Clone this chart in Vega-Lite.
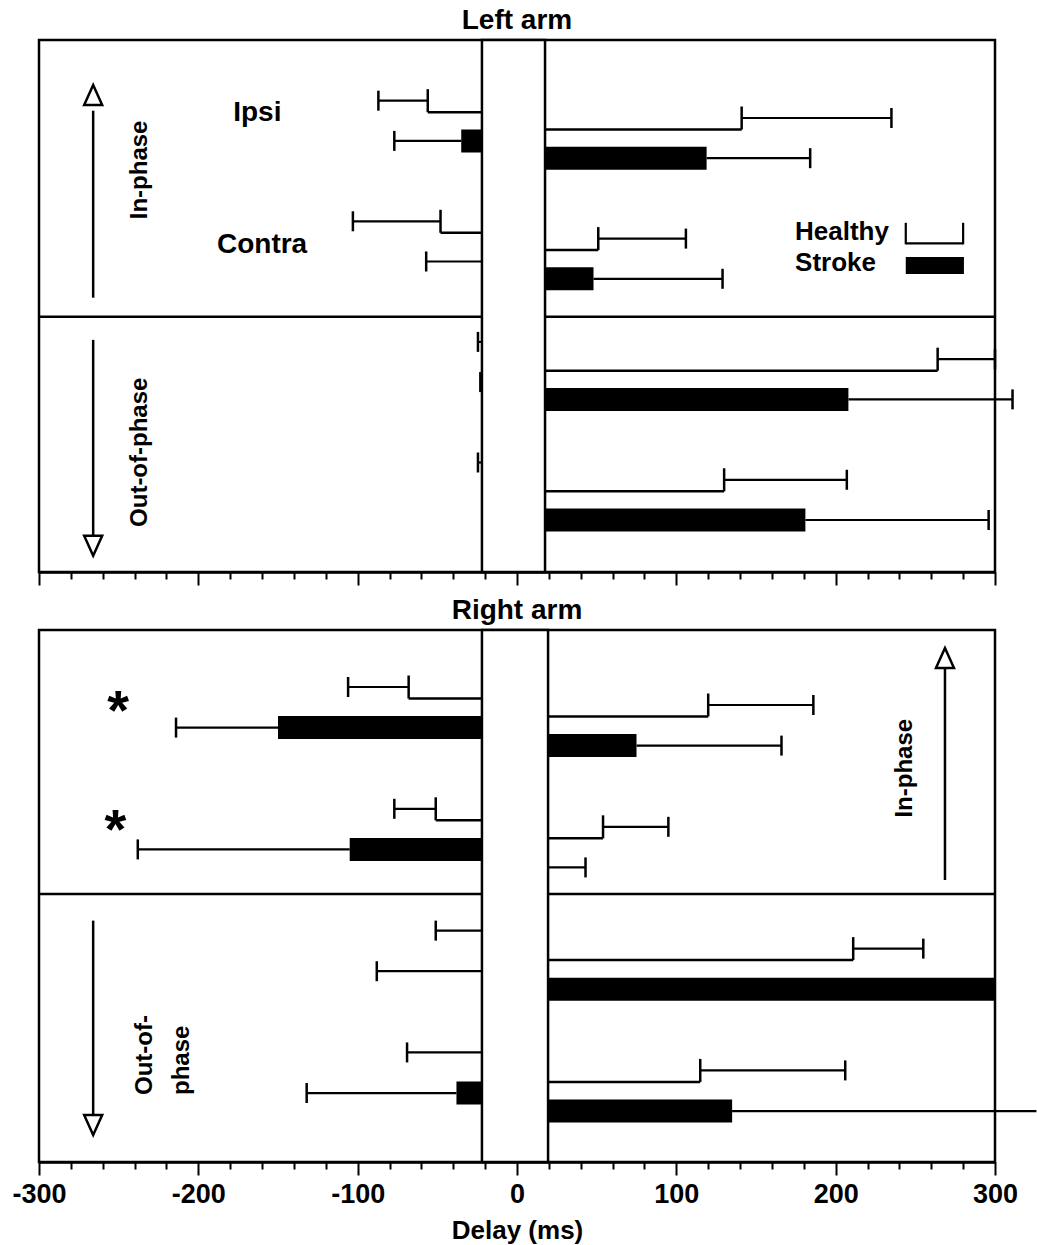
{
  "$schema": "https://vega.github.io/schema/vega-lite/v6.json",
  "padding": {"left": 10, "top": 5, "right": 0, "bottom": 0},
  "background": "white",
  "spacing": 7,
  "config": {
    "view": {"stroke": "black", "strokeWidth": 2.5},
    "axis": {"grid": false},
    "text": {"font": "Liberation Sans", "fontWeight": "bold", "color": "black"},
    "title": {"font": "Liberation Sans", "fontSize": 28, "fontWeight": "bold", "color": "black", "offset": 4}
  },
  "datasets": {
    "bars": [
      {"arm": "Left arm", "side": "neg", "row": "In-phase | Ipsi | Healthy", "subject": "Healthy", "mean": -56, "errEnd": -87},
      {"arm": "Left arm", "side": "neg", "row": "In-phase | Ipsi | Stroke", "subject": "Stroke", "mean": -35, "errEnd": -77},
      {"arm": "Left arm", "side": "neg", "row": "In-phase | Contra | Healthy", "subject": "Healthy", "mean": -48, "errEnd": -103},
      {"arm": "Left arm", "side": "neg", "row": "In-phase | Contra | Stroke", "subject": "Stroke", "mean": -10, "errEnd": -57},
      {"arm": "Left arm", "side": "neg", "row": "Out-of-phase | Ipsi | Healthy", "subject": "Healthy", "mean": -8, "errEnd": -24.5},
      {"arm": "Left arm", "side": "neg", "row": "Out-of-phase | Ipsi | Stroke", "subject": "Stroke", "mean": -8, "errEnd": -23},
      {"arm": "Left arm", "side": "neg", "row": "Out-of-phase | Contra | Healthy", "subject": "Healthy", "mean": -8, "errEnd": -24.5},
      {"arm": "Left arm", "side": "neg", "row": "Out-of-phase | Contra | Stroke", "subject": "Stroke", "mean": -5, "errEnd": -10},
      {"arm": "Left arm", "side": "pos", "row": "In-phase | Ipsi | Healthy", "subject": "Healthy", "mean": 141, "errEnd": 235},
      {"arm": "Left arm", "side": "pos", "row": "In-phase | Ipsi | Stroke", "subject": "Stroke", "mean": 119, "errEnd": 184},
      {"arm": "Left arm", "side": "pos", "row": "In-phase | Contra | Healthy", "subject": "Healthy", "mean": 51, "errEnd": 106},
      {"arm": "Left arm", "side": "pos", "row": "In-phase | Contra | Stroke", "subject": "Stroke", "mean": 48, "errEnd": 129},
      {"arm": "Left arm", "side": "pos", "row": "Out-of-phase | Ipsi | Healthy", "subject": "Healthy", "mean": 264, "errEnd": 300},
      {"arm": "Left arm", "side": "pos", "row": "Out-of-phase | Ipsi | Stroke", "subject": "Stroke", "mean": 208, "errEnd": 311},
      {"arm": "Left arm", "side": "pos", "row": "Out-of-phase | Contra | Healthy", "subject": "Healthy", "mean": 130, "errEnd": 207},
      {"arm": "Left arm", "side": "pos", "row": "Out-of-phase | Contra | Stroke", "subject": "Stroke", "mean": 181, "errEnd": 296},
      {"arm": "Right arm", "side": "neg", "row": "In-phase | Ipsi | Healthy", "subject": "Healthy", "mean": -68, "errEnd": -106},
      {"arm": "Right arm", "side": "neg", "row": "In-phase | Ipsi | Stroke", "subject": "Stroke", "mean": -150, "errEnd": -214},
      {"arm": "Right arm", "side": "neg", "row": "In-phase | Contra | Healthy", "subject": "Healthy", "mean": -51, "errEnd": -77},
      {"arm": "Right arm", "side": "neg", "row": "In-phase | Contra | Stroke", "subject": "Stroke", "mean": -105, "errEnd": -238},
      {"arm": "Right arm", "side": "neg", "row": "Out-of-phase | Ipsi | Healthy", "subject": "Healthy", "mean": -10, "errEnd": -51},
      {"arm": "Right arm", "side": "neg", "row": "Out-of-phase | Ipsi | Stroke", "subject": "Stroke", "mean": -10, "errEnd": -88},
      {"arm": "Right arm", "side": "neg", "row": "Out-of-phase | Contra | Healthy", "subject": "Healthy", "mean": -10, "errEnd": -69},
      {"arm": "Right arm", "side": "neg", "row": "Out-of-phase | Contra | Stroke", "subject": "Stroke", "mean": -38, "errEnd": -132},
      {"arm": "Right arm", "side": "pos", "row": "In-phase | Ipsi | Healthy", "subject": "Healthy", "mean": 120, "errEnd": 186},
      {"arm": "Right arm", "side": "pos", "row": "In-phase | Ipsi | Stroke", "subject": "Stroke", "mean": 75, "errEnd": 166},
      {"arm": "Right arm", "side": "pos", "row": "In-phase | Contra | Healthy", "subject": "Healthy", "mean": 54, "errEnd": 95},
      {"arm": "Right arm", "side": "pos", "row": "In-phase | Contra | Stroke", "subject": "Stroke", "mean": 10, "errEnd": 43},
      {"arm": "Right arm", "side": "pos", "row": "Out-of-phase | Ipsi | Healthy", "subject": "Healthy", "mean": 211, "errEnd": 255},
      {"arm": "Right arm", "side": "pos", "row": "Out-of-phase | Ipsi | Stroke", "subject": "Stroke", "mean": 300, "errEnd": 300},
      {"arm": "Right arm", "side": "pos", "row": "Out-of-phase | Contra | Healthy", "subject": "Healthy", "mean": 115, "errEnd": 206},
      {"arm": "Right arm", "side": "pos", "row": "Out-of-phase | Contra | Stroke", "subject": "Stroke", "mean": 135, "errEnd": 326}
    ],
    "gap": [
      {"arm": "Left arm", "from": -22, "to": 17.6},
      {"arm": "Right arm", "from": -22, "to": 19.5}
    ]
  },
  "vconcat": [
    {
      "title": {"text": "Left arm"},
      "width": 956,
      "height": 532,
      "resolve": {"axis": {"x": "independent"}},
      "layer": [
        {
          "data": {"values": [{}]},
          "mark": {"type": "rule", "color": "black", "strokeWidth": 2.5, "yOffset": 15},
          "encoding": {
            "y": {"datum": "spacer 2", "type": "ordinal", "axis": null, "scale": {"type": "band", "domain": ["edge top","In-phase | Ipsi | Healthy","In-phase | Ipsi | Stroke","spacer 1","In-phase | Contra | Healthy","In-phase | Contra | Stroke","spacer 2","Out-of-phase | Ipsi | Healthy","Out-of-phase | Ipsi | Stroke","spacer 3","Out-of-phase | Contra | Healthy","Out-of-phase | Contra | Stroke","edge bottom"], "paddingInner": 0.428, "paddingOuter": 0.331, "align": 0.338}}
          }
        },
        {
          "data": {"name": "bars"},
          "transform": [{"filter": "datum.arm === 'Left arm' && datum.subject === 'Stroke'"}],
          "mark": {"type": "bar", "color": "black", "yOffset": {"expr": "datum.side === 'pos' ? 17.3 : 0"}},
          "encoding": {
            "x": {"field": "mean", "type": "quantitative", "axis": null, "scale": {"domain": [-300, 300]}},
            "y": {"field": "row", "type": "ordinal", "axis": null, "scale": {"type": "band", "domain": ["edge top","In-phase | Ipsi | Healthy","In-phase | Ipsi | Stroke","spacer 1","In-phase | Contra | Healthy","In-phase | Contra | Stroke","spacer 2","Out-of-phase | Ipsi | Healthy","Out-of-phase | Ipsi | Stroke","spacer 3","Out-of-phase | Contra | Healthy","Out-of-phase | Contra | Stroke","edge bottom"], "paddingInner": 0.428, "paddingOuter": 0.331, "align": 0.338}}
          }
        },
        {
          "data": {"name": "bars"},
          "transform": [{"filter": "datum.arm === 'Left arm' && datum.subject === 'Healthy'"}],
          "mark": {"type": "rule", "color": "black", "strokeWidth": 2.5, "yOffset": {"expr": "(datum.side === 'pos' ? 17.3 : 0) + 11.5"}},
          "encoding": {
            "x": {"field": "mean", "type": "quantitative", "axis": null, "scale": {"domain": [-300, 300]}},
            "x2": {"datum": 0},
            "y": {"field": "row", "type": "ordinal", "axis": null, "scale": {"type": "band", "domain": ["edge top","In-phase | Ipsi | Healthy","In-phase | Ipsi | Stroke","spacer 1","In-phase | Contra | Healthy","In-phase | Contra | Stroke","spacer 2","Out-of-phase | Ipsi | Healthy","Out-of-phase | Ipsi | Stroke","spacer 3","Out-of-phase | Contra | Healthy","Out-of-phase | Contra | Stroke","edge bottom"], "paddingInner": 0.428, "paddingOuter": 0.331, "align": 0.338}}
          }
        },
        {
          "data": {"name": "bars"},
          "transform": [{"filter": "datum.arm === 'Left arm' && datum.subject === 'Healthy'"}],
          "mark": {"type": "tick", "color": "black", "opacity": 1, "size": 23, "thickness": 2.5, "yOffset": {"expr": "datum.side === 'pos' ? 17.3 : 0"}},
          "encoding": {
            "x": {"field": "mean", "type": "quantitative", "axis": null, "scale": {"domain": [-300, 300]}},
            "y": {"field": "row", "type": "ordinal", "axis": null, "scale": {"type": "band", "domain": ["edge top","In-phase | Ipsi | Healthy","In-phase | Ipsi | Stroke","spacer 1","In-phase | Contra | Healthy","In-phase | Contra | Stroke","spacer 2","Out-of-phase | Ipsi | Healthy","Out-of-phase | Ipsi | Stroke","spacer 3","Out-of-phase | Contra | Healthy","Out-of-phase | Contra | Stroke","edge bottom"], "paddingInner": 0.428, "paddingOuter": 0.331, "align": 0.338}}
          }
        },
        {
          "data": {"name": "bars"},
          "transform": [{"filter": "datum.arm === 'Left arm'"}],
          "mark": {"type": "rule", "color": "black", "strokeWidth": 2.2, "yOffset": {"expr": "datum.side === 'pos' ? 17.3 : 0"}},
          "encoding": {
            "x": {"field": "mean", "type": "quantitative", "scale": {"domain": [-300, 300]},
              "axis": {"orient": "bottom", "values": [-280,-260,-240,-220,-180,-160,-140,-120,-80,-60,-40,-20,20,40,60,80,120,140,160,180,220,240,260,280], "labels": false, "domain": false, "title": null, "grid": false, "tickColor": "black", "tickWidth": 2, "tickSize": 7}},
            "x2": {"field": "errEnd"},
            "y": {"field": "row", "type": "ordinal", "axis": null, "scale": {"type": "band", "domain": ["edge top","In-phase | Ipsi | Healthy","In-phase | Ipsi | Stroke","spacer 1","In-phase | Contra | Healthy","In-phase | Contra | Stroke","spacer 2","Out-of-phase | Ipsi | Healthy","Out-of-phase | Ipsi | Stroke","spacer 3","Out-of-phase | Contra | Healthy","Out-of-phase | Contra | Stroke","edge bottom"], "paddingInner": 0.428, "paddingOuter": 0.331, "align": 0.338}}
          }
        },
        {
          "data": {"name": "bars"},
          "transform": [{"filter": "datum.arm === 'Left arm' && datum.errEnd < 320 && datum.errEnd !== datum.mean"}],
          "mark": {"type": "tick", "color": "black", "opacity": 1, "size": 20, "thickness": 2.5, "yOffset": {"expr": "datum.side === 'pos' ? 17.3 : 0"}},
          "encoding": {
            "x": {"field": "errEnd", "type": "quantitative", "axis": null, "scale": {"domain": [-300, 300]}},
            "y": {"field": "row", "type": "ordinal", "axis": null, "scale": {"type": "band", "domain": ["edge top","In-phase | Ipsi | Healthy","In-phase | Ipsi | Stroke","spacer 1","In-phase | Contra | Healthy","In-phase | Contra | Stroke","spacer 2","Out-of-phase | Ipsi | Healthy","Out-of-phase | Ipsi | Stroke","spacer 3","Out-of-phase | Contra | Healthy","Out-of-phase | Contra | Stroke","edge bottom"], "paddingInner": 0.428, "paddingOuter": 0.331, "align": 0.338}}
          }
        },
        {
          "data": {"name": "gap"},
          "transform": [{"filter": "datum.arm === 'Left arm'"}],
          "mark": {"type": "rect", "fill": "white", "stroke": "black", "strokeWidth": 2.5},
          "encoding": {
            "x": {"field": "from", "type": "quantitative", "scale": {"domain": [-300, 300]},
              "axis": {"orient": "bottom", "values": [-300,-200,-100,0,100,200,300], "labels": false, "title": null, "grid": false, "domainColor": "black", "domainWidth": 2.5, "tickColor": "black", "tickWidth": 2, "tickSize": 13}},
            "x2": {"field": "to"}
          }
        },
        {
          "data": {"values": [{}]},
          "mark": {"type": "text", "text": "Ipsi", "fontSize": 28, "align": "center", "baseline": "middle", "yOffset": 12},
          "encoding": {
            "x": {"datum": -163, "type": "quantitative", "axis": null, "scale": {"domain": [-300, 300]}},
            "y": {"datum": "In-phase | Ipsi | Healthy", "type": "ordinal", "axis": null, "scale": {"type": "band", "domain": ["edge top","In-phase | Ipsi | Healthy","In-phase | Ipsi | Stroke","spacer 1","In-phase | Contra | Healthy","In-phase | Contra | Stroke","spacer 2","Out-of-phase | Ipsi | Healthy","Out-of-phase | Ipsi | Stroke","spacer 3","Out-of-phase | Contra | Healthy","Out-of-phase | Contra | Stroke","edge bottom"], "paddingInner": 0.428, "paddingOuter": 0.331, "align": 0.338}}
          }
        },
        {
          "data": {"values": [{}]},
          "mark": {"type": "text", "text": "Contra", "fontSize": 28, "align": "center", "baseline": "middle", "yOffset": 24},
          "encoding": {
            "x": {"datum": -160, "type": "quantitative", "axis": null, "scale": {"domain": [-300, 300]}},
            "y": {"datum": "In-phase | Contra | Healthy", "type": "ordinal", "axis": null, "scale": {"type": "band", "domain": ["edge top","In-phase | Ipsi | Healthy","In-phase | Ipsi | Stroke","spacer 1","In-phase | Contra | Healthy","In-phase | Contra | Stroke","spacer 2","Out-of-phase | Ipsi | Healthy","Out-of-phase | Ipsi | Stroke","spacer 3","Out-of-phase | Contra | Healthy","Out-of-phase | Contra | Stroke","edge bottom"], "paddingInner": 0.428, "paddingOuter": 0.331, "align": 0.338}}
          }
        },
        {
          "data": {"values": [{}]},
          "mark": {"type": "text", "text": "In-phase", "fontSize": 24, "angle": 270, "align": "center", "baseline": "middle", "yOffset": 29},
          "encoding": {
            "x": {"datum": -236.6, "type": "quantitative", "axis": null, "scale": {"domain": [-300, 300]}},
            "y": {"datum": "In-phase | Ipsi | Stroke", "type": "ordinal", "axis": null, "scale": {"type": "band", "domain": ["edge top","In-phase | Ipsi | Healthy","In-phase | Ipsi | Stroke","spacer 1","In-phase | Contra | Healthy","In-phase | Contra | Stroke","spacer 2","Out-of-phase | Ipsi | Healthy","Out-of-phase | Ipsi | Stroke","spacer 3","Out-of-phase | Contra | Healthy","Out-of-phase | Contra | Stroke","edge bottom"], "paddingInner": 0.428, "paddingOuter": 0.331, "align": 0.338}}
          }
        },
        {
          "data": {"values": [{}]},
          "mark": {"type": "text", "text": "Out-of-phase", "fontSize": 24, "angle": 270, "align": "center", "baseline": "middle", "yOffset": 30},
          "encoding": {
            "x": {"datum": -236.6, "type": "quantitative", "axis": null, "scale": {"domain": [-300, 300]}},
            "y": {"datum": "spacer 3", "type": "ordinal", "axis": null, "scale": {"type": "band", "domain": ["edge top","In-phase | Ipsi | Healthy","In-phase | Ipsi | Stroke","spacer 1","In-phase | Contra | Healthy","In-phase | Contra | Stroke","spacer 2","Out-of-phase | Ipsi | Healthy","Out-of-phase | Ipsi | Stroke","spacer 3","Out-of-phase | Contra | Healthy","Out-of-phase | Contra | Stroke","edge bottom"], "paddingInner": 0.428, "paddingOuter": 0.331, "align": 0.338}}
          }
        },
        {
          "data": {"values": [{}]},
          "mark": {"type": "rule", "color": "black", "strokeWidth": 2.5, "yOffset": 10, "y2Offset": -4},
          "encoding": {
            "x": {"datum": -266, "type": "quantitative", "axis": null, "scale": {"domain": [-300, 300]}},
            "y": {"datum": "In-phase | Ipsi | Healthy", "type": "ordinal", "axis": null, "scale": {"type": "band", "domain": ["edge top","In-phase | Ipsi | Healthy","In-phase | Ipsi | Stroke","spacer 1","In-phase | Contra | Healthy","In-phase | Contra | Stroke","spacer 2","Out-of-phase | Ipsi | Healthy","Out-of-phase | Ipsi | Stroke","spacer 3","Out-of-phase | Contra | Healthy","Out-of-phase | Contra | Stroke","edge bottom"], "paddingInner": 0.428, "paddingOuter": 0.331, "align": 0.338}},
            "y2": {"datum": "spacer 2"}
          }
        },
        {
          "data": {"values": [{}]},
          "mark": {"type": "point", "shape": "M0,-1L0.9,1L-0.9,1Z", "size": 400, "filled": false, "stroke": "black", "strokeWidth": 2.5, "opacity": 1, "yOffset": -5.7},
          "encoding": {
            "x": {"datum": -266, "type": "quantitative", "axis": null, "scale": {"domain": [-300, 300]}},
            "y": {"datum": "In-phase | Ipsi | Healthy", "type": "ordinal", "axis": null, "scale": {"type": "band", "domain": ["edge top","In-phase | Ipsi | Healthy","In-phase | Ipsi | Stroke","spacer 1","In-phase | Contra | Healthy","In-phase | Contra | Stroke","spacer 2","Out-of-phase | Ipsi | Healthy","Out-of-phase | Ipsi | Stroke","spacer 3","Out-of-phase | Contra | Healthy","Out-of-phase | Contra | Stroke","edge bottom"], "paddingInner": 0.428, "paddingOuter": 0.331, "align": 0.338}}
          }
        },
        {
          "data": {"values": [{}]},
          "mark": {"type": "rule", "color": "black", "strokeWidth": 2.5, "yOffset": -2, "y2Offset": 33},
          "encoding": {
            "x": {"datum": -266, "type": "quantitative", "axis": null, "scale": {"domain": [-300, 300]}},
            "y": {"datum": "Out-of-phase | Ipsi | Healthy", "type": "ordinal", "axis": null, "scale": {"type": "band", "domain": ["edge top","In-phase | Ipsi | Healthy","In-phase | Ipsi | Stroke","spacer 1","In-phase | Contra | Healthy","In-phase | Contra | Stroke","spacer 2","Out-of-phase | Ipsi | Healthy","Out-of-phase | Ipsi | Stroke","spacer 3","Out-of-phase | Contra | Healthy","Out-of-phase | Contra | Stroke","edge bottom"], "paddingInner": 0.428, "paddingOuter": 0.331, "align": 0.338}},
            "y2": {"datum": "Out-of-phase | Contra | Stroke"}
          }
        },
        {
          "data": {"values": [{}]},
          "mark": {"type": "point", "shape": "M0,1L0.9,-1L-0.9,-1Z", "size": 400, "filled": false, "stroke": "black", "strokeWidth": 2.5, "opacity": 1, "yOffset": 43},
          "encoding": {
            "x": {"datum": -266, "type": "quantitative", "axis": null, "scale": {"domain": [-300, 300]}},
            "y": {"datum": "Out-of-phase | Contra | Stroke", "type": "ordinal", "axis": null, "scale": {"type": "band", "domain": ["edge top","In-phase | Ipsi | Healthy","In-phase | Ipsi | Stroke","spacer 1","In-phase | Contra | Healthy","In-phase | Contra | Stroke","spacer 2","Out-of-phase | Ipsi | Healthy","Out-of-phase | Ipsi | Stroke","spacer 3","Out-of-phase | Contra | Healthy","Out-of-phase | Contra | Stroke","edge bottom"], "paddingInner": 0.428, "paddingOuter": 0.331, "align": 0.338}}
          }
        },
        {
          "data": {"values": [{}]},
          "mark": {"type": "text", "text": "Healthy", "fontSize": 26, "align": "left", "baseline": "middle", "yOffset": 11},
          "encoding": {
            "x": {"datum": 174.5, "type": "quantitative", "axis": null, "scale": {"domain": [-300, 300]}},
            "y": {"datum": "In-phase | Contra | Healthy", "type": "ordinal", "axis": null, "scale": {"type": "band", "domain": ["edge top","In-phase | Ipsi | Healthy","In-phase | Ipsi | Stroke","spacer 1","In-phase | Contra | Healthy","In-phase | Contra | Stroke","spacer 2","Out-of-phase | Ipsi | Healthy","Out-of-phase | Ipsi | Stroke","spacer 3","Out-of-phase | Contra | Healthy","Out-of-phase | Contra | Stroke","edge bottom"], "paddingInner": 0.428, "paddingOuter": 0.331, "align": 0.338}}
          }
        },
        {
          "data": {"values": [{}]},
          "mark": {"type": "text", "text": "Stroke", "fontSize": 26, "align": "left", "baseline": "middle", "yOffset": 2},
          "encoding": {
            "x": {"datum": 174.5, "type": "quantitative", "axis": null, "scale": {"domain": [-300, 300]}},
            "y": {"datum": "In-phase | Contra | Stroke", "type": "ordinal", "axis": null, "scale": {"type": "band", "domain": ["edge top","In-phase | Ipsi | Healthy","In-phase | Ipsi | Stroke","spacer 1","In-phase | Contra | Healthy","In-phase | Contra | Stroke","spacer 2","Out-of-phase | Ipsi | Healthy","Out-of-phase | Ipsi | Stroke","spacer 3","Out-of-phase | Contra | Healthy","Out-of-phase | Contra | Stroke","edge bottom"], "paddingInner": 0.428, "paddingOuter": 0.331, "align": 0.338}}
          }
        },
        {
          "data": {"values": [{}]},
          "mark": {"type": "rule", "color": "black", "strokeWidth": 2.2, "yOffset": 22},
          "encoding": {
            "x": {"datum": 244, "type": "quantitative", "axis": null, "scale": {"domain": [-300, 300]}},
            "x2": {"datum": 280},
            "y": {"datum": "In-phase | Contra | Healthy", "type": "ordinal", "axis": null, "scale": {"type": "band", "domain": ["edge top","In-phase | Ipsi | Healthy","In-phase | Ipsi | Stroke","spacer 1","In-phase | Contra | Healthy","In-phase | Contra | Stroke","spacer 2","Out-of-phase | Ipsi | Healthy","Out-of-phase | Ipsi | Stroke","spacer 3","Out-of-phase | Contra | Healthy","Out-of-phase | Contra | Stroke","edge bottom"], "paddingInner": 0.428, "paddingOuter": 0.331, "align": 0.338}}
          }
        },
        {
          "data": {"values": [{}]},
          "mark": {"type": "rule", "color": "black", "strokeWidth": 2.2, "yOffset": 1.5, "y2Offset": 23},
          "encoding": {
            "x": {"datum": 244, "type": "quantitative", "axis": null, "scale": {"domain": [-300, 300]}},
            "y": {"datum": "In-phase | Contra | Healthy", "type": "ordinal", "axis": null, "scale": {"type": "band", "domain": ["edge top","In-phase | Ipsi | Healthy","In-phase | Ipsi | Stroke","spacer 1","In-phase | Contra | Healthy","In-phase | Contra | Stroke","spacer 2","Out-of-phase | Ipsi | Healthy","Out-of-phase | Ipsi | Stroke","spacer 3","Out-of-phase | Contra | Healthy","Out-of-phase | Contra | Stroke","edge bottom"], "paddingInner": 0.428, "paddingOuter": 0.331, "align": 0.338}},
            "y2": {"datum": "In-phase | Contra | Healthy"}
          }
        },
        {
          "data": {"values": [{}]},
          "mark": {"type": "rule", "color": "black", "strokeWidth": 2.2, "yOffset": 1.5, "y2Offset": 23},
          "encoding": {
            "x": {"datum": 280, "type": "quantitative", "axis": null, "scale": {"domain": [-300, 300]}},
            "y": {"datum": "In-phase | Contra | Healthy", "type": "ordinal", "axis": null, "scale": {"type": "band", "domain": ["edge top","In-phase | Ipsi | Healthy","In-phase | Ipsi | Stroke","spacer 1","In-phase | Contra | Healthy","In-phase | Contra | Stroke","spacer 2","Out-of-phase | Ipsi | Healthy","Out-of-phase | Ipsi | Stroke","spacer 3","Out-of-phase | Contra | Healthy","Out-of-phase | Contra | Stroke","edge bottom"], "paddingInner": 0.428, "paddingOuter": 0.331, "align": 0.338}},
            "y2": {"datum": "In-phase | Contra | Healthy"}
          }
        },
        {
          "data": {"values": [{}]},
          "mark": {"type": "bar", "color": "black", "height": 17, "yOffset": 4},
          "encoding": {
            "x": {"datum": 244, "type": "quantitative", "axis": null, "scale": {"domain": [-300, 300]}},
            "x2": {"datum": 280.5},
            "y": {"datum": "In-phase | Contra | Stroke", "type": "ordinal", "axis": null, "scale": {"type": "band", "domain": ["edge top","In-phase | Ipsi | Healthy","In-phase | Ipsi | Stroke","spacer 1","In-phase | Contra | Healthy","In-phase | Contra | Stroke","spacer 2","Out-of-phase | Ipsi | Healthy","Out-of-phase | Ipsi | Stroke","spacer 3","Out-of-phase | Contra | Healthy","Out-of-phase | Contra | Stroke","edge bottom"], "paddingInner": 0.428, "paddingOuter": 0.331, "align": 0.338}}
          }
        }
      ]
    },
    {
      "title": {"text": "Right arm"},
      "width": 956,
      "height": 532,
      "resolve": {"axis": {"x": "independent"}},
      "layer": [
        {
          "data": {"values": [{}]},
          "mark": {"type": "rule", "color": "black", "strokeWidth": 2.5, "yOffset": 4},
          "encoding": {
            "y": {"datum": "spacer 2", "type": "ordinal", "axis": null, "scale": {"type": "band", "domain": ["edge top","In-phase | Ipsi | Healthy","In-phase | Ipsi | Stroke","spacer 1","In-phase | Contra | Healthy","In-phase | Contra | Stroke","spacer 2","Out-of-phase | Ipsi | Healthy","Out-of-phase | Ipsi | Stroke","spacer 3","Out-of-phase | Contra | Healthy","Out-of-phase | Contra | Stroke","edge bottom"], "paddingInner": 0.4335, "paddingOuter": 0.268, "align": 0.225}}
          }
        },
        {
          "data": {"name": "bars"},
          "transform": [{"filter": "datum.arm === 'Right arm' && datum.subject === 'Stroke'"}],
          "mark": {"type": "bar", "color": "black", "yOffset": {"expr": "datum.side === 'pos' ? 18 : 0"}},
          "encoding": {
            "x": {"field": "mean", "type": "quantitative", "axis": null, "scale": {"domain": [-300, 300]}},
            "y": {"field": "row", "type": "ordinal", "axis": null, "scale": {"type": "band", "domain": ["edge top","In-phase | Ipsi | Healthy","In-phase | Ipsi | Stroke","spacer 1","In-phase | Contra | Healthy","In-phase | Contra | Stroke","spacer 2","Out-of-phase | Ipsi | Healthy","Out-of-phase | Ipsi | Stroke","spacer 3","Out-of-phase | Contra | Healthy","Out-of-phase | Contra | Stroke","edge bottom"], "paddingInner": 0.4335, "paddingOuter": 0.268, "align": 0.225}}
          }
        },
        {
          "data": {"name": "bars"},
          "transform": [{"filter": "datum.arm === 'Right arm' && datum.subject === 'Healthy'"}],
          "mark": {"type": "rule", "color": "black", "strokeWidth": 2.5, "yOffset": {"expr": "(datum.side === 'pos' ? 18 : 0) + 11.5"}},
          "encoding": {
            "x": {"field": "mean", "type": "quantitative", "axis": null, "scale": {"domain": [-300, 300]}},
            "x2": {"datum": 0},
            "y": {"field": "row", "type": "ordinal", "axis": null, "scale": {"type": "band", "domain": ["edge top","In-phase | Ipsi | Healthy","In-phase | Ipsi | Stroke","spacer 1","In-phase | Contra | Healthy","In-phase | Contra | Stroke","spacer 2","Out-of-phase | Ipsi | Healthy","Out-of-phase | Ipsi | Stroke","spacer 3","Out-of-phase | Contra | Healthy","Out-of-phase | Contra | Stroke","edge bottom"], "paddingInner": 0.4335, "paddingOuter": 0.268, "align": 0.225}}
          }
        },
        {
          "data": {"name": "bars"},
          "transform": [{"filter": "datum.arm === 'Right arm' && datum.subject === 'Healthy'"}],
          "mark": {"type": "tick", "color": "black", "opacity": 1, "size": 23, "thickness": 2.5, "yOffset": {"expr": "datum.side === 'pos' ? 18 : 0"}},
          "encoding": {
            "x": {"field": "mean", "type": "quantitative", "axis": null, "scale": {"domain": [-300, 300]}},
            "y": {"field": "row", "type": "ordinal", "axis": null, "scale": {"type": "band", "domain": ["edge top","In-phase | Ipsi | Healthy","In-phase | Ipsi | Stroke","spacer 1","In-phase | Contra | Healthy","In-phase | Contra | Stroke","spacer 2","Out-of-phase | Ipsi | Healthy","Out-of-phase | Ipsi | Stroke","spacer 3","Out-of-phase | Contra | Healthy","Out-of-phase | Contra | Stroke","edge bottom"], "paddingInner": 0.4335, "paddingOuter": 0.268, "align": 0.225}}
          }
        },
        {
          "data": {"name": "bars"},
          "transform": [{"filter": "datum.arm === 'Right arm'"}],
          "mark": {"type": "rule", "color": "black", "strokeWidth": 2.2, "yOffset": {"expr": "datum.side === 'pos' ? 18 : 0"}},
          "encoding": {
            "x": {"field": "mean", "type": "quantitative", "scale": {"domain": [-300, 300]},
              "axis": {"orient": "bottom", "values": [-280,-260,-240,-220,-180,-160,-140,-120,-80,-60,-40,-20,20,40,60,80,120,140,160,180,220,240,260,280], "labels": false, "domain": false, "title": null, "grid": false, "tickColor": "black", "tickWidth": 2, "tickSize": 7}},
            "x2": {"field": "errEnd"},
            "y": {"field": "row", "type": "ordinal", "axis": null, "scale": {"type": "band", "domain": ["edge top","In-phase | Ipsi | Healthy","In-phase | Ipsi | Stroke","spacer 1","In-phase | Contra | Healthy","In-phase | Contra | Stroke","spacer 2","Out-of-phase | Ipsi | Healthy","Out-of-phase | Ipsi | Stroke","spacer 3","Out-of-phase | Contra | Healthy","Out-of-phase | Contra | Stroke","edge bottom"], "paddingInner": 0.4335, "paddingOuter": 0.268, "align": 0.225}}
          }
        },
        {
          "data": {"name": "bars"},
          "transform": [{"filter": "datum.arm === 'Right arm' && datum.errEnd < 320 && datum.errEnd !== datum.mean"}],
          "mark": {"type": "tick", "color": "black", "opacity": 1, "size": 20, "thickness": 2.5, "yOffset": {"expr": "datum.side === 'pos' ? 18 : 0"}},
          "encoding": {
            "x": {"field": "errEnd", "type": "quantitative", "axis": null, "scale": {"domain": [-300, 300]}},
            "y": {"field": "row", "type": "ordinal", "axis": null, "scale": {"type": "band", "domain": ["edge top","In-phase | Ipsi | Healthy","In-phase | Ipsi | Stroke","spacer 1","In-phase | Contra | Healthy","In-phase | Contra | Stroke","spacer 2","Out-of-phase | Ipsi | Healthy","Out-of-phase | Ipsi | Stroke","spacer 3","Out-of-phase | Contra | Healthy","Out-of-phase | Contra | Stroke","edge bottom"], "paddingInner": 0.4335, "paddingOuter": 0.268, "align": 0.225}}
          }
        },
        {
          "data": {"name": "gap"},
          "transform": [{"filter": "datum.arm === 'Right arm'"}],
          "mark": {"type": "rect", "fill": "white", "stroke": "black", "strokeWidth": 2.5},
          "encoding": {
            "x": {"field": "from", "type": "quantitative", "scale": {"domain": [-300, 300]},
              "axis": {"orient": "bottom", "values": [-300,-200,-100,0,100,200,300], "labelExpr": "datum.value < 0 ? '-' + abs(datum.value) : '' + datum.value", "labelOverlap": false, "labelFlush": false, "labelBound": false, "labelFont": "Liberation Sans", "labelFontSize": 27, "labelFontWeight": "bold", "labelColor": "black", "labelPadding": 6, "title": "Delay (ms)", "titleFont": "Liberation Sans", "titleFontSize": 26, "titleFontWeight": "bold", "titleColor": "black", "titlePadding": 10, "grid": false, "domainColor": "black", "domainWidth": 2.5, "tickColor": "black", "tickWidth": 2, "tickSize": 13}},
            "x2": {"field": "to"}
          }
        },
        {
          "data": {"values": [{}]},
          "mark": {"type": "text", "text": "*", "fontSize": 56, "align": "center", "baseline": "alphabetic", "yOffset": 42},
          "encoding": {
            "x": {"datum": -250.4, "type": "quantitative", "axis": null, "scale": {"domain": [-300, 300]}},
            "y": {"datum": "In-phase | Ipsi | Healthy", "type": "ordinal", "axis": null, "scale": {"type": "band", "domain": ["edge top","In-phase | Ipsi | Healthy","In-phase | Ipsi | Stroke","spacer 1","In-phase | Contra | Healthy","In-phase | Contra | Stroke","spacer 2","Out-of-phase | Ipsi | Healthy","Out-of-phase | Ipsi | Stroke","spacer 3","Out-of-phase | Contra | Healthy","Out-of-phase | Contra | Stroke","edge bottom"], "paddingInner": 0.4335, "paddingOuter": 0.268, "align": 0.225}}
          }
        },
        {
          "data": {"values": [{}]},
          "mark": {"type": "text", "text": "*", "fontSize": 56, "align": "center", "baseline": "alphabetic", "yOffset": -1.4},
          "encoding": {
            "x": {"datum": -252, "type": "quantitative", "axis": null, "scale": {"domain": [-300, 300]}},
            "y": {"datum": "In-phase | Contra | Stroke", "type": "ordinal", "axis": null, "scale": {"type": "band", "domain": ["edge top","In-phase | Ipsi | Healthy","In-phase | Ipsi | Stroke","spacer 1","In-phase | Contra | Healthy","In-phase | Contra | Stroke","spacer 2","Out-of-phase | Ipsi | Healthy","Out-of-phase | Ipsi | Stroke","spacer 3","Out-of-phase | Contra | Healthy","Out-of-phase | Contra | Stroke","edge bottom"], "paddingInner": 0.4335, "paddingOuter": 0.268, "align": 0.225}}
          }
        },
        {
          "data": {"values": [{}]},
          "mark": {"type": "text", "text": "In-phase", "fontSize": 24, "angle": 270, "align": "center", "baseline": "middle", "yOffset": 0},
          "encoding": {
            "x": {"datum": 243.5, "type": "quantitative", "axis": null, "scale": {"domain": [-300, 300]}},
            "y": {"datum": "spacer 1", "type": "ordinal", "axis": null, "scale": {"type": "band", "domain": ["edge top","In-phase | Ipsi | Healthy","In-phase | Ipsi | Stroke","spacer 1","In-phase | Contra | Healthy","In-phase | Contra | Stroke","spacer 2","Out-of-phase | Ipsi | Healthy","Out-of-phase | Ipsi | Stroke","spacer 3","Out-of-phase | Contra | Healthy","Out-of-phase | Contra | Stroke","edge bottom"], "paddingInner": 0.4335, "paddingOuter": 0.268, "align": 0.225}}
          }
        },
        {
          "data": {"values": [{}]},
          "mark": {"type": "rule", "color": "black", "strokeWidth": 2.5, "yOffset": -19, "y2Offset": -10},
          "encoding": {
            "x": {"datum": 268.6, "type": "quantitative", "axis": null, "scale": {"domain": [-300, 300]}},
            "y": {"datum": "In-phase | Ipsi | Healthy", "type": "ordinal", "axis": null, "scale": {"type": "band", "domain": ["edge top","In-phase | Ipsi | Healthy","In-phase | Ipsi | Stroke","spacer 1","In-phase | Contra | Healthy","In-phase | Contra | Stroke","spacer 2","Out-of-phase | Ipsi | Healthy","Out-of-phase | Ipsi | Stroke","spacer 3","Out-of-phase | Contra | Healthy","Out-of-phase | Contra | Stroke","edge bottom"], "paddingInner": 0.4335, "paddingOuter": 0.268, "align": 0.225}},
            "y2": {"datum": "spacer 2"}
          }
        },
        {
          "data": {"values": [{}]},
          "mark": {"type": "point", "shape": "M0,-1L0.9,1L-0.9,1Z", "size": 400, "filled": false, "stroke": "black", "strokeWidth": 2.5, "opacity": 1, "yOffset": -29},
          "encoding": {
            "x": {"datum": 268.6, "type": "quantitative", "axis": null, "scale": {"domain": [-300, 300]}},
            "y": {"datum": "In-phase | Ipsi | Healthy", "type": "ordinal", "axis": null, "scale": {"type": "band", "domain": ["edge top","In-phase | Ipsi | Healthy","In-phase | Ipsi | Stroke","spacer 1","In-phase | Contra | Healthy","In-phase | Contra | Stroke","spacer 2","Out-of-phase | Ipsi | Healthy","Out-of-phase | Ipsi | Stroke","spacer 3","Out-of-phase | Contra | Healthy","Out-of-phase | Contra | Stroke","edge bottom"], "paddingInner": 0.4335, "paddingOuter": 0.268, "align": 0.225}}
          }
        },
        {
          "data": {"values": [{}]},
          "mark": {"type": "text", "text": "Out-of-\nphase", "lineBreak": "\n", "lineHeight": 37, "fontSize": 24, "angle": 270, "align": "left", "baseline": "middle", "yOffset": 2},
          "encoding": {
            "x": {"datum": -233.5, "type": "quantitative", "axis": null, "scale": {"domain": [-300, 300]}},
            "y": {"datum": "Out-of-phase | Contra | Stroke", "type": "ordinal", "axis": null, "scale": {"type": "band", "domain": ["edge top","In-phase | Ipsi | Healthy","In-phase | Ipsi | Stroke","spacer 1","In-phase | Contra | Healthy","In-phase | Contra | Stroke","spacer 2","Out-of-phase | Ipsi | Healthy","Out-of-phase | Ipsi | Stroke","spacer 3","Out-of-phase | Contra | Healthy","Out-of-phase | Contra | Stroke","edge bottom"], "paddingInner": 0.4335, "paddingOuter": 0.268, "align": 0.225}}
          }
        },
        {
          "data": {"values": [{}]},
          "mark": {"type": "rule", "color": "black", "strokeWidth": 2.5, "yOffset": -10, "y2Offset": 22},
          "encoding": {
            "x": {"datum": -266, "type": "quantitative", "axis": null, "scale": {"domain": [-300, 300]}},
            "y": {"datum": "Out-of-phase | Ipsi | Healthy", "type": "ordinal", "axis": null, "scale": {"type": "band", "domain": ["edge top","In-phase | Ipsi | Healthy","In-phase | Ipsi | Stroke","spacer 1","In-phase | Contra | Healthy","In-phase | Contra | Stroke","spacer 2","Out-of-phase | Ipsi | Healthy","Out-of-phase | Ipsi | Stroke","spacer 3","Out-of-phase | Contra | Healthy","Out-of-phase | Contra | Stroke","edge bottom"], "paddingInner": 0.4335, "paddingOuter": 0.268, "align": 0.225}},
            "y2": {"datum": "Out-of-phase | Contra | Stroke"}
          }
        },
        {
          "data": {"values": [{}]},
          "mark": {"type": "point", "shape": "M0,1L0.9,-1L-0.9,-1Z", "size": 400, "filled": false, "stroke": "black", "strokeWidth": 2.5, "opacity": 1, "yOffset": 32},
          "encoding": {
            "x": {"datum": -266, "type": "quantitative", "axis": null, "scale": {"domain": [-300, 300]}},
            "y": {"datum": "Out-of-phase | Contra | Stroke", "type": "ordinal", "axis": null, "scale": {"type": "band", "domain": ["edge top","In-phase | Ipsi | Healthy","In-phase | Ipsi | Stroke","spacer 1","In-phase | Contra | Healthy","In-phase | Contra | Stroke","spacer 2","Out-of-phase | Ipsi | Healthy","Out-of-phase | Ipsi | Stroke","spacer 3","Out-of-phase | Contra | Healthy","Out-of-phase | Contra | Stroke","edge bottom"], "paddingInner": 0.4335, "paddingOuter": 0.268, "align": 0.225}}
          }
        }
      ]
    }
  ]
}
